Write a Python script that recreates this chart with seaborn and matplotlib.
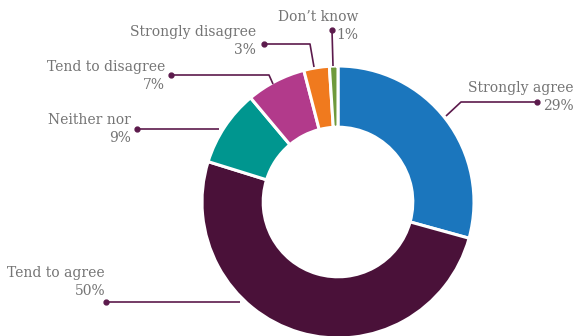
import matplotlib
matplotlib.use("Agg")
import matplotlib.pyplot as plt
import seaborn as sns

sns.set_theme(style="white")
plt.rcParams["font.family"] = ["DejaVu Serif"]

categories = ["Strongly agree", "Tend to agree", "Neither nor",
              "Tend to disagree", "Strongly disagree", "Don\u2019t know"]
values = [29, 50, 9, 7, 3, 1]
colors = ["#1b76bd", "#4a1139", "#00968f", "#b23a8b", "#f07a1e", "#6f9a3c"]

W, H = 575, 336
fig = plt.figure(figsize=(W / 100, H / 100), dpi=100)
ax = fig.add_axes([0, 0, 1, 1])

cx, cy, R = 338, H - 202, 136
ax.pie(values, colors=colors, startangle=90, counterclock=False,
       center=(cx, cy), radius=R,
       wedgeprops=dict(width=R * 0.45, edgecolor="white", linewidth=2.2))
ax.set_xlim(0, W)
ax.set_ylim(0, H)
ax.set_aspect("equal")
ax.axis("off")

line_c = "#5c1a4c"
text_c = "#747474"

# leader paths in pixel space (y measured from top), dot at the first point
leaders = [
    [(537, 102), (461, 102), (446, 116)],
    [(106, 302), (240, 302)],
    [(137, 129), (219, 129)],
    [(171, 75), (269, 75), (273, 84)],
    [(264, 44), (310, 44), (314, 67)],
    [(332, 30), (333, 66)],
]
# label anchor: right edge x, top y of the two-line block
label_pos = [(574, 81), (105, 266), (131, 113), (165, 60), (256, 25), (358, 10)]

for cat, v, path, (lx, ly) in zip(categories, values, leaders, label_pos):
    xs = [p[0] for p in path]
    ys = [H - p[1] for p in path]
    ax.plot(xs, ys, color=line_c, lw=1.2, solid_capstyle="butt")
    ax.plot(xs[0], ys[0], "o", color=line_c, ms=3.5)
    ax.text(lx, H - ly, f"{cat}\n{v}%", ha="right", va="top",
            color=text_c, fontsize=10, linespacing=1.35)

fig.savefig("out.png", dpi=100)
